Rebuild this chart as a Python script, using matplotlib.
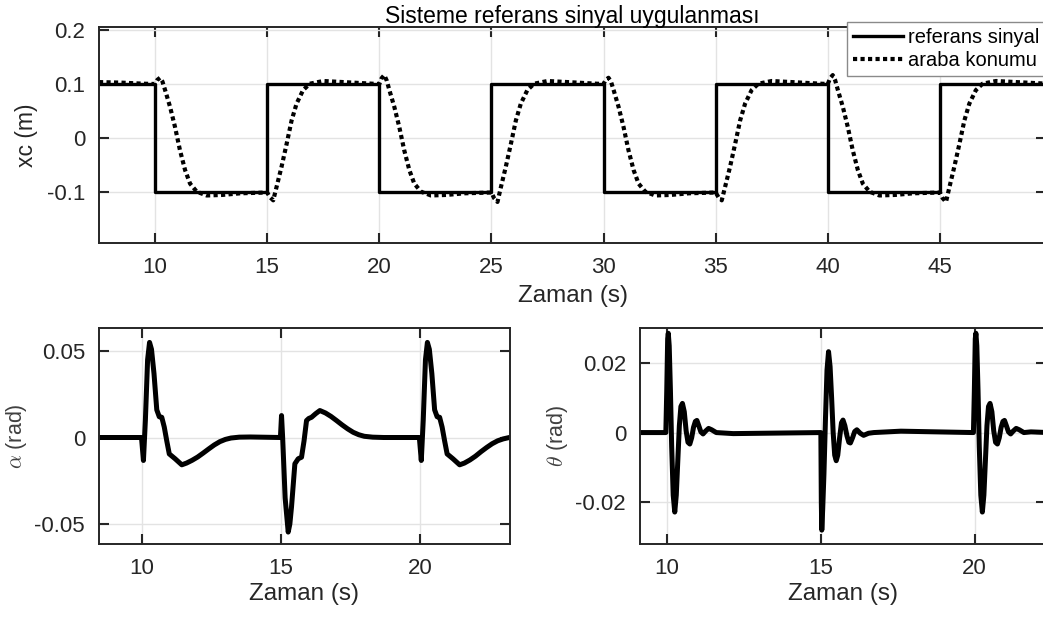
import matplotlib
matplotlib.use("Agg")
import matplotlib.pyplot as plt

plt.rcParams['font.family'] = ['Liberation Sans', 'DejaVu Sans']
plt.rcParams['mathtext.fontset'] = 'cm'

# reference square wave (step points)
t_ref = [7.5, 10, 10, 15, 15, 20, 20, 25, 25, 30, 30, 35, 35, 40, 40, 45, 45, 49.8]
x_ref = [0.1, 0.1, -0.1, -0.1, 0.1, 0.1, -0.1, -0.1, 0.1, 0.1, -0.1, -0.1, 0.1, 0.1, -0.1, -0.1, 0.1, 0.1]

# cart position
t_cart = [7.5, 8.5, 9.5, 10.0, 10.1, 10.22, 10.33, 10.45, 10.67, 10.89, 11.11, 11.34, 11.56, 11.86, 12.3, 13.0, 13.8,
          15.0, 15.12, 15.27, 15.42, 15.64, 15.87, 16.09, 16.31, 16.6, 16.9, 17.5, 18.4, 19.7,
          20.0, 20.1, 20.22, 20.33, 20.45, 20.67, 20.89, 21.11, 21.34, 21.56, 21.86, 22.3, 23.0, 23.8,
          25.0, 25.12, 25.27, 25.42, 25.64, 25.87, 26.09, 26.31, 26.6, 26.9, 27.5, 28.4, 29.7,
          30.0, 30.1, 30.22, 30.33, 30.45, 30.67, 30.89, 31.11, 31.34, 31.56, 31.86, 32.3, 33.0, 33.8,
          35.0, 35.12, 35.27, 35.42, 35.64, 35.87, 36.09, 36.31, 36.6, 36.9, 37.5, 38.4, 39.7,
          40.0, 40.1, 40.22, 40.33, 40.45, 40.67, 40.89, 41.11, 41.34, 41.56, 41.86, 42.3, 43.0, 43.8,
          45.0, 45.12, 45.27, 45.42, 45.64, 45.87, 46.09, 46.31, 46.6, 46.9, 47.5, 48.4, 49.8]
x_cart = [0.104, 0.103, 0.101, 0.1005, 0.108, 0.112, 0.105, 0.089, 0.058, 0.021, -0.022, -0.059, -0.084, -0.099, -0.106, -0.105, -0.102,
          -0.1005, -0.109, -0.115, -0.090, -0.053, -0.010, 0.033, 0.064, 0.089, 0.101, 0.106, 0.104, 0.101,
          0.1005, 0.111, 0.117, 0.107, 0.089, 0.058, 0.021, -0.022, -0.059, -0.084, -0.099, -0.106, -0.105, -0.102,
          -0.1005, -0.111, -0.118, -0.091, -0.053, -0.010, 0.033, 0.064, 0.089, 0.101, 0.106, 0.104, 0.101,
          0.1005, 0.108, 0.112, 0.105, 0.089, 0.058, 0.021, -0.022, -0.059, -0.084, -0.099, -0.106, -0.105, -0.102,
          -0.1005, -0.109, -0.115, -0.090, -0.053, -0.010, 0.033, 0.064, 0.089, 0.101, 0.106, 0.104, 0.101,
          0.1005, 0.111, 0.117, 0.107, 0.089, 0.058, 0.021, -0.022, -0.059, -0.084, -0.099, -0.106, -0.105, -0.102,
          -0.1005, -0.111, -0.118, -0.091, -0.053, -0.010, 0.033, 0.064, 0.089, 0.101, 0.106, 0.104, 0.101]

# alpha angle
t_alpha = [8.4, 9.98, 10.05, 10.12, 10.2, 10.27, 10.34, 10.43, 10.53, 10.62, 10.71, 10.8, 10.89, 10.98, 11.19, 11.43,
           11.6, 11.8, 12.0, 12.2, 12.4, 12.6, 12.8, 13.0, 13.2, 13.5, 13.9, 14.98,
           15.02, 15.06, 15.15, 15.26, 15.32, 15.38, 15.5, 15.62, 15.74, 15.83, 15.92, 16.0, 16.1, 16.25, 16.4,
           16.6, 16.8, 17.0, 17.2, 17.4, 17.6, 17.8, 18.0, 18.3, 18.7, 19.98,
           20.05, 20.12, 20.2, 20.27, 20.34, 20.43, 20.53, 20.62, 20.71, 20.8, 20.89, 20.98, 21.19, 21.43,
           21.6, 21.8, 22.0, 22.2, 22.4, 22.6, 22.8, 23.0, 23.3]
alpha = [0.0, 0.0, -0.0133, 0.01, 0.045, 0.055, 0.051, 0.037, 0.016, 0.012, 0.0117, 0.006, -0.002, -0.0095, -0.0123, -0.0158,
         -0.0148, -0.0132, -0.0113, -0.0090, -0.0066, -0.0043, -0.0024, -0.0011, -0.0003, 0.0002, 0.0003, 0.0,
         0.0127, 0.0, -0.035, -0.0547, -0.05, -0.04, -0.0152, -0.0123, -0.0114, -0.002, 0.0098, 0.011, 0.0117, 0.0138, 0.0156,
         0.0142, 0.0122, 0.0098, 0.0073, 0.0050, 0.0030, 0.0016, 0.0007, 0.0002, 0.0, 0.0,
         -0.0133, 0.01, 0.045, 0.055, 0.051, 0.037, 0.016, 0.012, 0.0117, 0.006, -0.002, -0.0095, -0.0123, -0.0158,
         -0.0148, -0.0130, -0.0108, -0.0082, -0.0058, -0.0036, -0.0019, -0.0008, 0.0003]

# theta angle
t_theta = [9.0, 9.96, 9.99, 10.02, 10.04, 10.07, 10.11, 10.15, 10.2, 10.25, 10.3, 10.35, 10.4, 10.45, 10.5, 10.56, 10.62,
           10.68, 10.74, 10.8, 10.86, 10.92, 10.97, 11.03, 11.1, 11.17, 11.25, 11.35, 11.45, 11.6, 12.15,
           15.0, 15.015, 15.03, 15.06, 15.1, 15.15, 15.2, 15.25, 15.3, 15.35, 15.4, 15.45, 15.5, 15.55, 15.61, 15.67,
           15.72, 15.78, 15.85, 15.91, 15.96, 16.03, 16.1, 16.17, 16.28, 16.39, 16.55, 16.72, 17.6,
           19.96, 19.99, 20.02, 20.04, 20.07, 20.11, 20.15, 20.2, 20.25, 20.3, 20.35, 20.4, 20.45, 20.5, 20.56, 20.62,
           20.68, 20.74, 20.8, 20.86, 20.92, 20.97, 21.03, 21.1, 21.17, 21.25, 21.35, 21.45, 21.6, 21.83, 22.4]
theta = [0.0, 0.0, 0.012, 0.027, 0.0286, 0.025, 0.012, -0.004, -0.018, -0.0229, -0.018, -0.008, 0.002, 0.0075, 0.0084, 0.006, 0.0005,
         -0.0028, -0.0033, -0.0015, 0.0015, 0.0032, 0.0035, 0.002, 0.0002, -0.0004, 0.0004, 0.0012, 0.0008, 0.0, -0.0003,
         0.0, -0.02, -0.0281, -0.022, -0.012, 0.004, 0.018, 0.0233, 0.019, 0.01, 0.0, -0.0065, -0.0081, -0.0065, -0.0015, 0.0028,
         0.0036, 0.002, -0.001, -0.0028, -0.003, -0.0015, 0.0003, 0.0008, -0.0002, -0.0008, -0.0002, 0.0, 0.0004,
         0.0, 0.012, 0.027, 0.0286, 0.025, 0.012, -0.004, -0.018, -0.0229, -0.018, -0.008, 0.002, 0.0075, 0.0084, 0.006, 0.0005,
         -0.0028, -0.0033, -0.0015, 0.0015, 0.0032, 0.0035, 0.002, 0.0002, -0.0004, 0.0004, 0.0012, 0.0008, 0.0, 0.0002, 0.0]

INK = '#262626'


def style_axes(ax, tick_size=16):
    ax.grid(True, color='#e3e3e3', linewidth=1.0)
    ax.set_axisbelow(True)
    ax.tick_params(direction='in', length=7, width=1.5, colors=INK, labelsize=tick_size,
                   top=True, right=True, pad=10)
    for s in ax.spines.values():
        s.set_color(INK)
        s.set_linewidth(1.4)


fig = plt.figure(figsize=(10.43, 6.17), dpi=100)

ax1 = fig.add_axes([0.0949, 0.6062, 0.908, 0.350])
ax1.plot(t_ref, x_ref, color='black', linewidth=2.4, label='referans sinyal')
ax1.plot(t_cart, x_cart, color='black', linewidth=3.0, linestyle=(0, (1, 0.8)),
         dash_capstyle='butt', label='araba konumu')
ax1.set_xlim(7.5, 49.73)
ax1.set_ylim(-0.194, 0.206)
ax1.set_xticks([10, 15, 20, 25, 30, 35, 40, 45])
ax1.set_yticks([-0.1, 0, 0.1, 0.2])
ax1.set_yticklabels(['-0.1', '0', '0.1', '0.2'])
style_axes(ax1)
ax1.set_xlabel('Zaman (s)', fontsize=17.5, color=INK, labelpad=5)
ax1.set_ylabel('xc (m)', fontsize=16.5, color=INK, labelpad=6)
ax1.set_title('Sisteme referans sinyal uygulanması', fontsize=16.5, color='black', pad=3)
leg = ax1.legend(loc='upper left', bbox_to_anchor=(0.812, 0.9643), bbox_transform=fig.transFigure,
                 fontsize=14.5, handlelength=2.5, handletextpad=0.25, labelspacing=0.2,
                 borderpad=0.3, borderaxespad=0, fancybox=False, framealpha=1)
leg.get_frame().set_edgecolor('#8a8a8a')
leg.get_frame().set_linewidth(1.0)

ax2 = fig.add_axes([0.0949, 0.1183, 0.394, 0.350])
ax2.plot(t_alpha, alpha, color='black', linewidth=3.6, solid_joinstyle='round')
ax2.set_xlim(8.45, 23.24)
ax2.set_ylim(-0.0616, 0.0633)
ax2.set_xticks([10, 15, 20])
ax2.set_yticks([-0.05, 0, 0.05])
ax2.set_yticklabels(['-0.05', '0', '0.05'])
style_axes(ax2, 16)
ax2.set_xlabel('Zaman (s)', fontsize=17.5, color=INK, labelpad=3)
ax2.set_ylabel(r'$\alpha$ (rad)', fontsize=15.5, color='#404040', labelpad=4)

ax3 = fig.add_axes([0.6136, 0.1183, 0.389, 0.350])
ax3.plot(t_theta, theta, color='black', linewidth=3.6, solid_joinstyle='round')
ax3.set_xlim(9.12, 22.31)
ax3.set_ylim(-0.0321, 0.0301)
ax3.set_xticks([10, 15, 20])
ax3.set_yticks([-0.02, 0, 0.02])
ax3.set_yticklabels(['-0.02', '0', '0.02'])
style_axes(ax3, 16)
ax3.set_xlabel('Zaman (s)', fontsize=17.5, color=INK, labelpad=3)
ax3.set_ylabel(r'$\theta$ (rad)', fontsize=15.5, color='#404040', labelpad=4)

fig.savefig('out.png', dpi=100)
